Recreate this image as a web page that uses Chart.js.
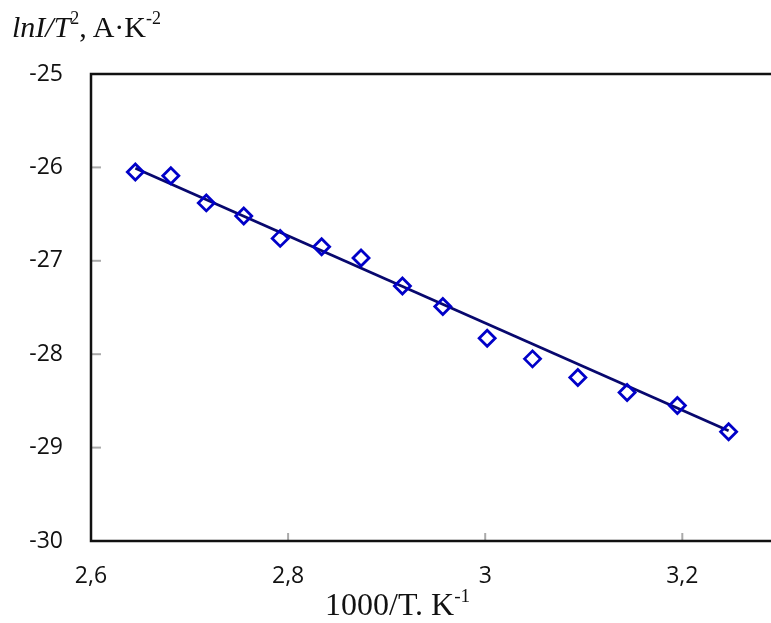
<!DOCTYPE html>
<html>
<head>
<meta charset="utf-8">
<script src="https://cdn.jsdelivr.net/npm/chart.js@4"></script>
<style>
    body { margin: 0; overflow: hidden; background: #fff; }
    #wrap { position: relative; width: 771px; height: 623px; }
    #ytitle {
        position: absolute; left: 12px; top: 12px;
        font: 30px/30px "Liberation Serif", serif; color: #111; white-space: nowrap;
    }
    #xtitle {
        position: absolute; left: 325px; top: 588px;
        font: 32px/32px "Liberation Serif", serif; color: #111; white-space: nowrap;
    }
    sup { font-size: 60%; vertical-align: 0.7em; line-height: 0; }
</style>
</head>
<body>
<div id="wrap">
    <canvas id="c" width="771" height="623"></canvas>
    <div id="ytitle"><i>lnI/T</i><sup>2</sup>, A·K<sup>-2</sup></div>
    <div id="xtitle">1000/T. K<sup>-1</sup></div>
</div>
<script>
// 1000/T, K^-1
const invT = [2.645, 2.681, 2.717, 2.755, 2.792, 2.834, 2.874, 2.916, 2.957, 3.002, 3.048, 3.094, 3.144, 3.195, 3.247];
// lnI/T^2
const lnIT2 = [-26.05, -26.09, -26.38, -26.52, -26.76, -26.85, -26.97, -27.27, -27.49, -27.83, -28.05, -28.25, -28.41, -28.55, -28.83];
// linear fit ends
const fitX = [2.645, 3.247];
const fitY = [-26.01, -28.82];
const xTicks = [2.6, 2.8, 3.0, 3.2];
const yTicks = [-30, -29, -28, -27, -26, -25];

// left/top/bottom frame (the right side is cut off in the original) + short grey inward ticks
const framePlugin = {
    id: 'frame',
    afterDatasetsDraw(chart) {
        const { ctx, chartArea: a, scales } = chart;
        ctx.save();
        ctx.strokeStyle = '#aaa';
        ctx.lineWidth = 2;
        xTicks.slice(1).forEach(v => {
            const x = scales.x.getPixelForValue(v);
            ctx.beginPath(); ctx.moveTo(x, a.bottom); ctx.lineTo(x, a.bottom - 8); ctx.stroke();
        });
        yTicks.slice(1, -1).forEach(v => {
            const y = scales.y.getPixelForValue(v);
            ctx.beginPath(); ctx.moveTo(a.left, y); ctx.lineTo(a.left + 10, y); ctx.stroke();
        });
        ctx.strokeStyle = '#111';
        ctx.lineWidth = 2.5;
        ctx.beginPath();
        ctx.moveTo(chart.width, a.top);
        ctx.lineTo(a.left, a.top);
        ctx.lineTo(a.left, a.bottom);
        ctx.lineTo(chart.width, a.bottom);
        ctx.stroke();
        ctx.restore();
    }
};

new Chart(document.getElementById('c'), {
    type: 'scatter',
    data: {
        datasets: [{
            data: invT.map((x, i) => ({ x: x, y: lnIT2[i] })),
            pointStyle: 'rectRot',
            pointRadius: 8,
            pointBorderWidth: 2.8,
            pointBorderColor: '#0000c8',
            pointBackgroundColor: 'rgba(0,0,0,0)',
            showLine: false
        }, {
            data: fitX.map((x, i) => ({ x: x, y: fitY[i] })),
            showLine: true,
            borderColor: '#08086e',
            borderWidth: 2.8,
            pointRadius: 0
        }]
    },
    plugins: [framePlugin],
    options: {
        responsive: false,
        animation: false,
        layout: { autoPadding: false, padding: { top: 74, right: 0, left: 0, bottom: 0 } },
        plugins: { legend: { display: false }, tooltip: { enabled: false } },
        scales: {
            x: {
                min: 2.6, max: 3.29,
                afterBuildTicks: s => { s.ticks = xTicks.map(v => ({ value: v })); },
                afterFit: s => { s.height = 82; s.paddingRight = 0; },
                grid: { display: false, drawTicks: false },
                border: { display: false },
                ticks: {
                    padding: 22,
                    color: '#111',
                    font: { family: 'Open Sans', size: 23 },
                    callback: v => String(Math.round(v * 10) / 10).replace('.', ',')
                }
            },
            y: {
                min: -30, max: -25,
                afterBuildTicks: s => { s.ticks = yTicks.map(v => ({ value: v })); },
                afterFit: s => { s.width = 91; },
                grid: { display: false, drawTicks: false },
                border: { display: false },
                ticks: {
                    padding: 28,
                    color: '#111',
                    font: { family: 'Open Sans', size: 23 }
                }
            }
        }
    }
});
</script>
</body>
</html>
